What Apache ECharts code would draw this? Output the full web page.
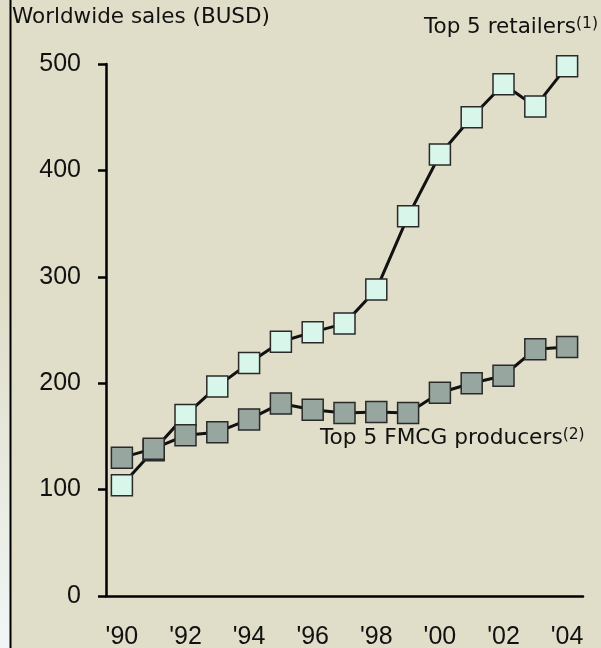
<!DOCTYPE html>
<html>
<head>
<meta charset="utf-8">
<script src="https://cdn.jsdelivr.net/npm/echarts@6/dist/echarts.min.js"></script>
<style>
  html, body { margin: 0; padding: 0; background: #E0DDC8; }
  #chart { width: 601px; height: 648px; }
</style>
</head>
<body>
<div id="chart"></div>
<script>
// Years shown on the category axis
const years = ["'90", "'91", "'92", "'93", "'94", "'95", "'96", "'97", "'98", "'99", "'00", "'01", "'02", "'03", "'04"];
// Worldwide sales, billions of USD
const retailers = [104, 137, 170, 197, 219, 239, 248, 256, 288, 357, 415, 450, 481, 460, 498];
const fmcgProducers = [130, 138.5, 151, 154, 166, 181, 175, 172, 173, 172, 191, 200, 207, 232, 234];
// Value axis ticks
const yTicks = [0, 100, 200, 300, 400, 500];

const labelFont = '"Liberation Sans", Arial, sans-serif';
const textFont = '"DejaVu Sans", Verdana, sans-serif';

const chart = echarts.init(document.getElementById('chart'), null, { renderer: 'canvas' });

chart.setOption({
  backgroundColor: '#E0DDC8',
  animation: false,
  grid: { left: 106, right: 18, top: 64, bottom: 52, outerBoundsMode: 'none', containLabel: false },
  xAxis: {
    type: 'category',
    data: years,
    boundaryGap: true,
    axisLine: { lineStyle: { color: '#000', width: 2.5 } },
    axisTick: { interval: 0, length: 8, lineStyle: { color: '#000', width: 2.5 } },
    axisLabel: { interval: 1, margin: 29, color: '#111', fontSize: 25, fontFamily: labelFont }
  },
  yAxis: {
    type: 'value',
    min: yTicks[0],
    max: yTicks[yTicks.length - 1],
    interval: yTicks[1] - yTicks[0],
    splitLine: { show: false },
    axisLine: { show: true, lineStyle: { color: '#000', width: 2.5 } },
    axisTick: { show: true, length: 8, lineStyle: { color: '#000', width: 2.5 } },
    axisLabel: { margin: 25, color: '#111', fontSize: 25, fontFamily: labelFont }
  },
  graphic: [
    {
      type: 'rect', left: 0, top: 0, z: -1,
      shape: { width: 10, height: 648 },
      style: {
        fill: new echarts.graphic.LinearGradient(0, 0, 0, 1, [
          { offset: 0, color: '#E0DDC8' },
          { offset: 0.45, color: '#E0DDC8' },
          { offset: 1, color: '#F0F7F6' }
        ])
      }
    },
    {
      type: 'line', z: 10,
      shape: { x1: 10.5, y1: 0, x2: 10.5, y2: 648 },
      style: { stroke: '#000', lineWidth: 2 }
    },
    {
      type: 'text', left: 12, top: 6,
      style: { text: 'Worldwide sales (BUSD)', fill: '#111', font: '21.5px ' + textFont }
    },
    {
      type: 'text', right: 3, top: 16,
      style: {
        text: '{m|Top 5 retailers}{s|(1)}',
        rich: {
          m: { fill: '#111', fontSize: 21.5, fontFamily: textFont },
          s: { fill: '#111', fontSize: 15.5, fontFamily: textFont, verticalAlign: 'top', padding: [0, 0, 6, 0] }
        }
      }
    },
    {
      type: 'text', left: 320, top: 427,
      style: {
        text: '{m|Top 5 FMCG producers}{s|(2)}',
        rich: {
          m: { fill: '#111', fontSize: 21.7, fontFamily: textFont },
          s: { fill: '#111', fontSize: 15.5, fontFamily: textFont, verticalAlign: 'top', padding: [0, 0, 6, 0] }
        }
      }
    }
  ],
  series: [
    {
      name: 'Top 5 retailers',
      type: 'line',
      data: retailers,
      symbol: 'rect',
      symbolSize: 21,
      lineStyle: { color: '#111', width: 3 },
      itemStyle: { color: '#D8F6EA', borderColor: '#2A2A2A', borderWidth: 1.5 },
      z: 2
    },
    {
      name: 'Top 5 FMCG producers',
      type: 'line',
      data: fmcgProducers,
      symbol: 'rect',
      symbolSize: 21,
      lineStyle: { color: '#111', width: 3 },
      itemStyle: { color: '#97A69E', borderColor: '#2A2A2A', borderWidth: 1.5 },
      z: 3
    }
  ]
});
</script>
</body>
</html>
